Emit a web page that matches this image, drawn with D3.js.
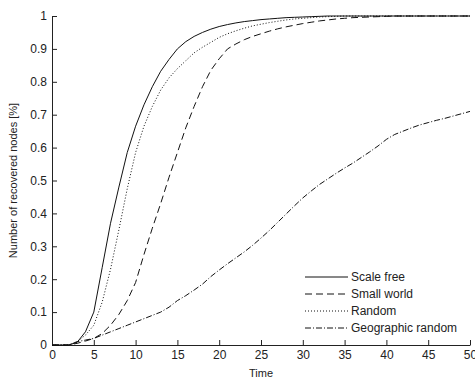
<!DOCTYPE html>
<html>
<head>
<meta charset="utf-8">
<script src="https://cdn.jsdelivr.net/npm/d3@7"></script>
<style>
  html, body { margin: 0; padding: 0; background: #fff; }
  svg { display: block; font-family: "Liberation Sans", Arial, sans-serif; }
</style>
</head>
<body>
<div id="output"></div>
<script>
// time steps 0..50
const time = d3.range(0, 51);

const scaleFree = [0, 0, 0, 0.008, 0.04, 0.10, 0.235, 0.37, 0.48, 0.585, 0.665,
  0.73, 0.785, 0.832, 0.868, 0.90, 0.922, 0.938, 0.95, 0.96, 0.968,
  0.974, 0.979, 0.983, 0.986, 0.989, 0.991, 0.993, 0.995, 0.996, 0.997,
  0.998, 0.999, 1, 1, 1, 1, 1, 1, 1, 1,
  1, 1, 1, 1, 1, 1, 1, 1, 1, 1];

const smallWorld = [0, 0, 0, 0.005, 0.012, 0.02, 0.035, 0.06, 0.093, 0.135, 0.19,
  0.275, 0.355, 0.43, 0.51, 0.585, 0.66, 0.725, 0.785, 0.835, 0.87,
  0.9, 0.915, 0.928, 0.938, 0.946, 0.954, 0.961, 0.967, 0.972, 0.977,
  0.981, 0.985, 0.988, 0.991, 0.993, 0.995, 0.996, 0.997, 0.998, 0.999,
  1, 1, 1, 1, 1, 1, 1, 1, 1, 1];

const random = [0, 0, 0, 0.01, 0.03, 0.06, 0.13, 0.23, 0.35, 0.475, 0.585,
  0.665, 0.725, 0.775, 0.812, 0.84, 0.864, 0.888, 0.905, 0.92, 0.935,
  0.946, 0.955, 0.963, 0.97, 0.975, 0.98, 0.984, 0.988, 0.991, 0.993,
  0.995, 0.997, 0.998, 0.999, 1, 1, 1, 1, 1, 1,
  1, 1, 1, 1, 1, 1, 1, 1, 1, 1];

const geoRandom = [0, 0, 0, 0.01, 0.015, 0.02, 0.03, 0.04, 0.05, 0.06, 0.07,
  0.08, 0.09, 0.1, 0.115, 0.135, 0.15, 0.167, 0.185, 0.208, 0.228,
  0.247, 0.265, 0.283, 0.303, 0.325, 0.348, 0.373, 0.398, 0.423, 0.447,
  0.468, 0.488, 0.505, 0.522, 0.538, 0.553, 0.57, 0.587, 0.605, 0.625,
  0.64, 0.65, 0.66, 0.669, 0.676, 0.683, 0.689, 0.696, 0.703, 0.71];

const seriesNames = ["Scale free", "Small world", "Random", "Geographic random"];
const seriesValues = [scaleFree, smallWorld, random, geoRandom];
const dashes = [null, "7,4", "1,2", "6,2,1,2"];

const xTicks = [0, 5, 10, 15, 20, 25, 30, 35, 40, 45, 50];
const yTicks = [0, 0.1, 0.2, 0.3, 0.4, 0.5, 0.6, 0.7, 0.8, 0.9, 1];

const width = 475, height = 379;
const margin = { top: 16, right: 5, bottom: 34, left: 52 };

const svg = d3.select("#output").append("svg")
  .attr("width", width)
  .attr("height", height);

const x = d3.scaleLinear().domain([0, 50]).range([margin.left, width - margin.right]);
const y = d3.scaleLinear().domain([0, 1]).range([height - margin.bottom, margin.top]);

// axes, ticks pointing inward like matlab
const xAxis = svg.append("g")
  .attr("transform", `translate(0,${height - margin.bottom})`)
  .call(d3.axisBottom(x).tickValues(xTicks).tickSizeInner(-5).tickSizeOuter(0).tickPadding(5));

const yAxis = svg.append("g")
  .attr("transform", `translate(${margin.left},0)`)
  .call(d3.axisLeft(y).tickValues(yTicks).tickSizeInner(-5).tickSizeOuter(0).tickPadding(5)
    .tickFormat(d => d === 0 || d === 1 ? d3.format("d")(d) : d3.format(".1f")(d)));

[xAxis, yAxis].forEach(g => {
  g.select(".domain").attr("stroke", "#222");
  g.selectAll(".tick line").attr("stroke", "#222");
  g.selectAll(".tick text").attr("fill", "#222").attr("font-size", 12)
    .attr("font-family", "Liberation Sans, Arial, sans-serif");
});

// curves
const line = d3.line()
  .x((d, i) => x(time[i]))
  .y(d => y(d));

seriesValues.forEach((vals, k) => {
  svg.append("path")
    .datum(vals)
    .attr("fill", "none")
    .attr("stroke", "#111")
    .attr("stroke-width", 1)
    .attr("stroke-dasharray", dashes[k])
    .attr("d", line);
});

// axis labels
svg.append("text")
  .attr("x", (margin.left + width - margin.right) / 2)
  .attr("y", 377)
  .attr("text-anchor", "middle")
  .attr("font-size", 11)
  .attr("fill", "#222")
  .text("Time");

svg.append("text")
  .attr("transform", `translate(17,${(margin.top + height - margin.bottom) / 2}) rotate(-90)`)
  .attr("text-anchor", "middle")
  .attr("font-size", 11)
  .attr("fill", "#222")
  .text("Number of recovered nodes [%]");

// legend
const legend = svg.append("g").attr("transform", "translate(305,277)");
seriesNames.forEach((name, k) => {
  const row = legend.append("g").attr("transform", `translate(0,${k * 17})`);
  row.append("line")
    .attr("x1", 0).attr("x2", 43)
    .attr("stroke", "#111")
    .attr("stroke-dasharray", dashes[k]);
  row.append("text")
    .attr("x", 46).attr("y", 4)
    .attr("font-size", 12)
    .attr("fill", "#222")
    .text(name);
});
</script>
</body>
</html>
